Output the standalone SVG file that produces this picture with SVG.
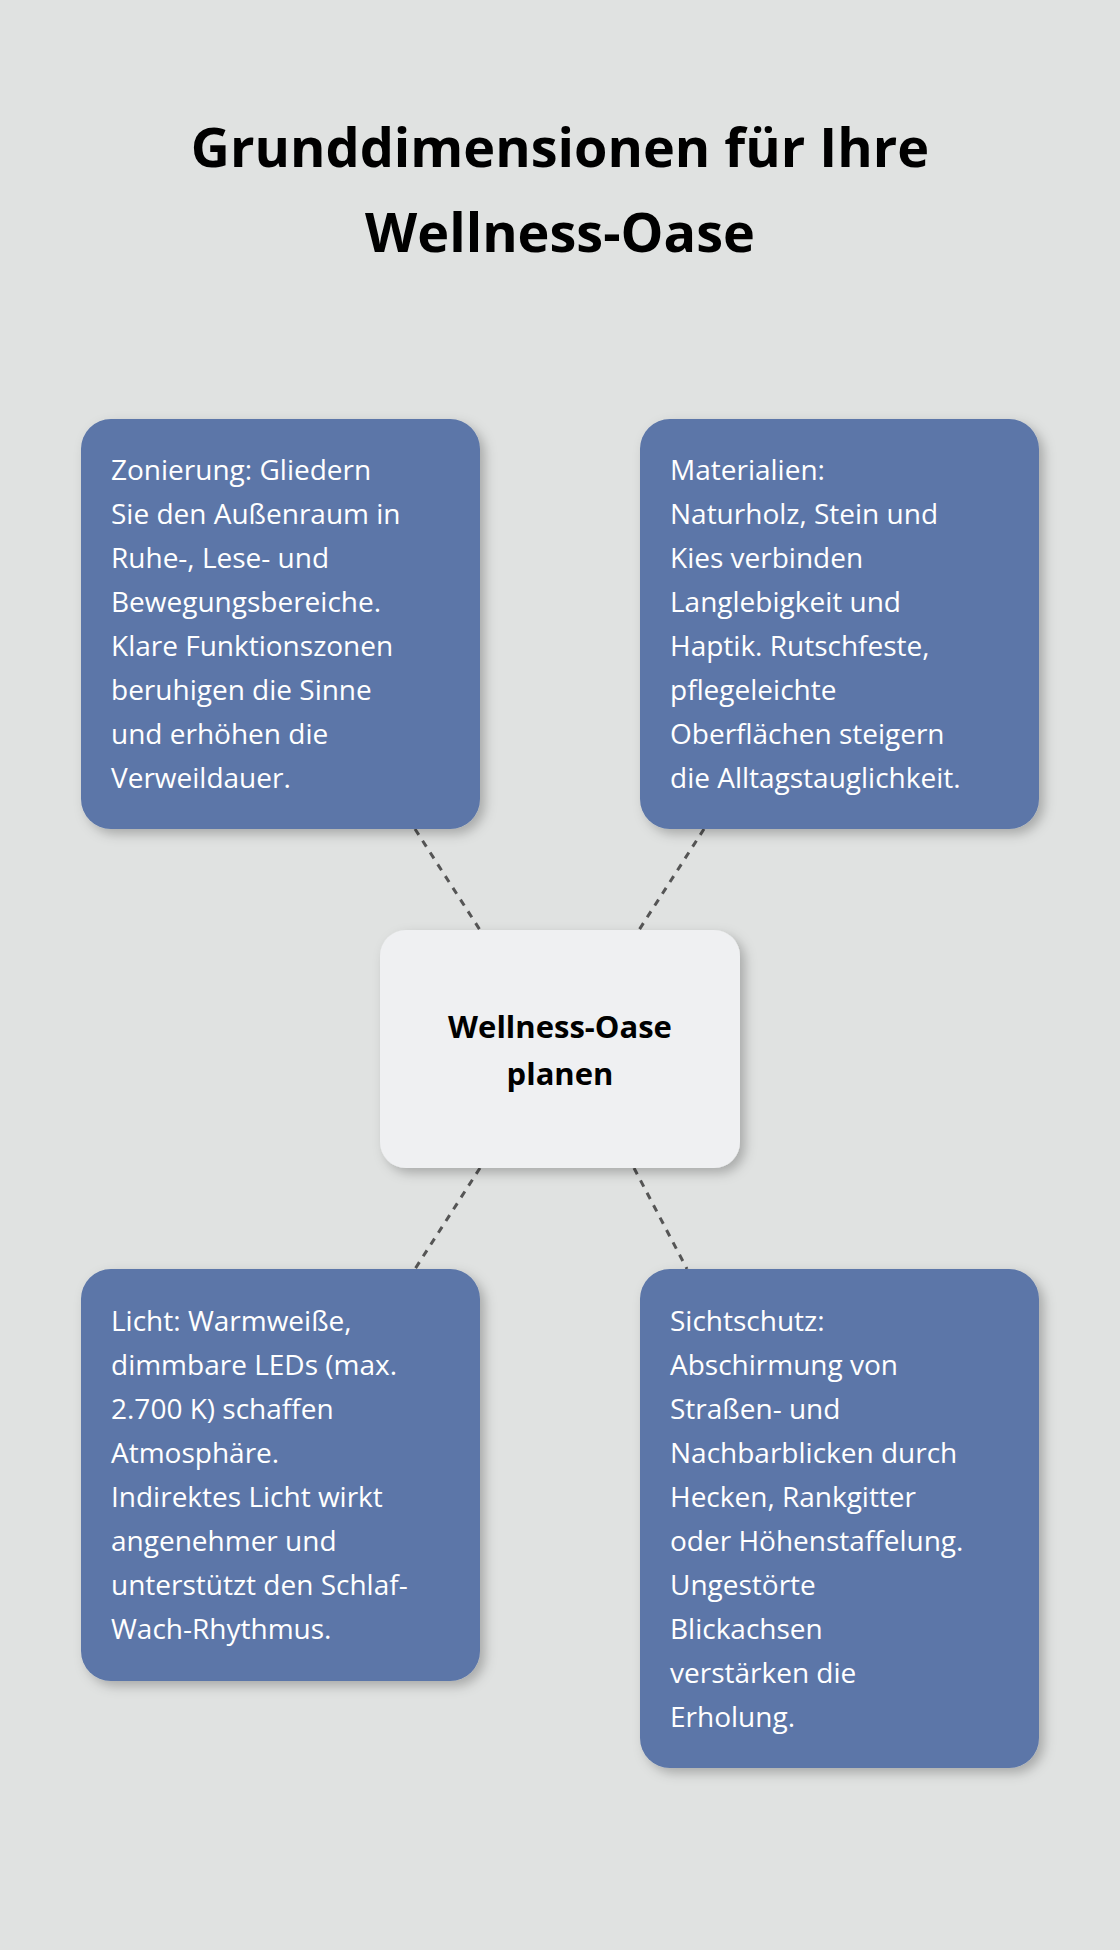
<svg xmlns="http://www.w3.org/2000/svg" width="1120" height="1950" viewBox="0 0 1120 1950">
<style>
.t{font-family:"Open Sans","Noto Sans",sans-serif;font-size:28px;fill:#ffffff}
.h{font-family:"Open Sans","Noto Sans",sans-serif;font-weight:bold;font-size:54px;fill:#000;text-anchor:middle}
.c{font-family:"Open Sans","Noto Sans",sans-serif;font-weight:bold;font-size:31px;fill:#000;text-anchor:middle}
.b{fill:#5b76a8;filter:url(#s)}
.l{stroke:#555;stroke-width:3;stroke-dasharray:7,7;fill:none}
</style>
<defs><filter id="s" x="-20%" y="-20%" width="140%" height="140%"><feDropShadow dx="5" dy="5" stdDeviation="6" flood-color="#000" flood-opacity="0.25"/></filter></defs>
<rect width="1120" height="1950" fill="#e0e2e1"/>
<text class="h" x="560" y="167">Grunddimensionen für Ihre</text>
<text class="h" x="560" y="252">Wellness-Oase</text>
<g id="connectors">
<line class="l" x1="415" y1="829" x2="480" y2="930"/>
<line class="l" x1="704" y1="829" x2="639" y2="930"/>
<line class="l" x1="480" y1="1168" x2="415" y2="1269"/>
<line class="l" x1="634" y1="1168" x2="687" y2="1269"/>
</g>
<g id="center"><rect x="380" y="930" width="360" height="238" rx="26" fill="#eff0f2" filter="url(#s)"/>
<text class="c" x="560" y="1038">Wellness-Oase</text><text class="c" x="560" y="1085">planen</text></g>
<g id="zonierung"><rect class="b" x="81" y="419" width="399" height="410" rx="30"/>
<text class="t" x="111" y="480"><tspan x="111">Zonierung: Gliedern</tspan><tspan x="111" dy="44">Sie den Außenraum in</tspan><tspan x="111" dy="44">Ruhe-, Lese- und</tspan><tspan x="111" dy="44">Bewegungsbereiche.</tspan><tspan x="111" dy="44">Klare Funktionszonen</tspan><tspan x="111" dy="44">beruhigen die Sinne</tspan><tspan x="111" dy="44">und erhöhen die</tspan><tspan x="111" dy="44">Verweildauer.</tspan></text></g>
<g id="materialien"><rect class="b" x="640" y="419" width="399" height="410" rx="30"/>
<text class="t" x="670" y="480"><tspan x="670">Materialien:</tspan><tspan x="670" dy="44">Naturholz, Stein und</tspan><tspan x="670" dy="44">Kies verbinden</tspan><tspan x="670" dy="44">Langlebigkeit und</tspan><tspan x="670" dy="44">Haptik. Rutschfeste,</tspan><tspan x="670" dy="44">pflegeleichte</tspan><tspan x="670" dy="44">Oberflächen steigern</tspan><tspan x="670" dy="44">die Alltagstauglichkeit.</tspan></text></g>
<g id="licht"><rect class="b" x="81" y="1269" width="399" height="412" rx="30"/>
<text class="t" x="111" y="1331"><tspan x="111">Licht: Warmweiße,</tspan><tspan x="111" dy="44">dimmbare LEDs (max.</tspan><tspan x="111" dy="44">2.700 K) schaffen</tspan><tspan x="111" dy="44">Atmosphäre.</tspan><tspan x="111" dy="44">Indirektes Licht wirkt</tspan><tspan x="111" dy="44">angenehmer und</tspan><tspan x="111" dy="44">unterstützt den Schlaf-</tspan><tspan x="111" dy="44">Wach-Rhythmus.</tspan></text></g>
<g id="sichtschutz"><rect class="b" x="640" y="1269" width="399" height="499" rx="30"/>
<text class="t" x="670" y="1331"><tspan x="670">Sichtschutz:</tspan><tspan x="670" dy="44">Abschirmung von</tspan><tspan x="670" dy="44">Straßen- und</tspan><tspan x="670" dy="44">Nachbarblicken durch</tspan><tspan x="670" dy="44">Hecken, Rankgitter</tspan><tspan x="670" dy="44">oder Höhenstaffelung.</tspan><tspan x="670" dy="44">Ungestörte</tspan><tspan x="670" dy="44">Blickachsen</tspan><tspan x="670" dy="44">verstärken die</tspan><tspan x="670" dy="44">Erholung.</tspan></text></g>
</svg>
